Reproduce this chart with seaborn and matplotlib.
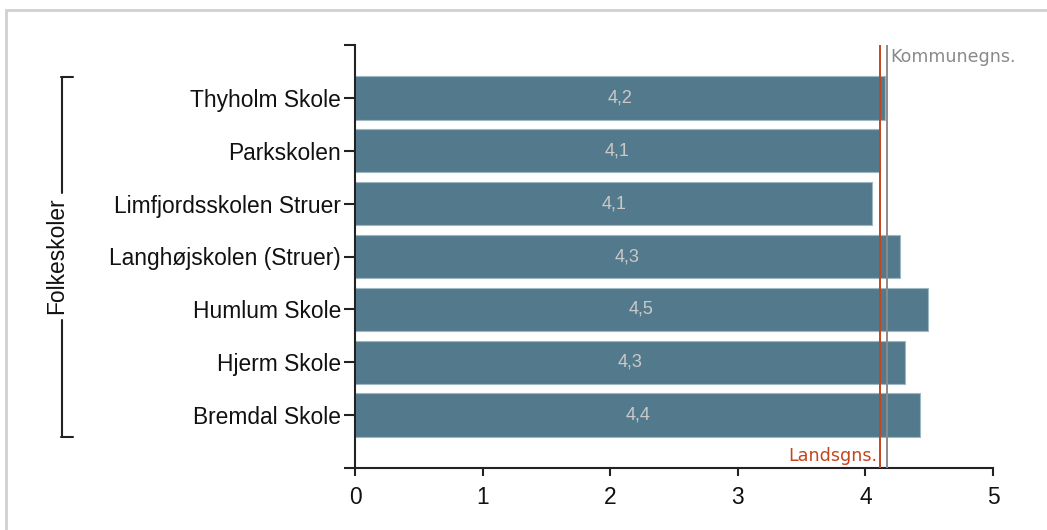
import matplotlib
matplotlib.use("Agg")
import matplotlib.pyplot as plt
from matplotlib.patches import Rectangle
from matplotlib.lines import Line2D
import seaborn as sns
import pandas as pd

schools = ["Thyholm Skole", "Parkskolen", "Limfjordsskolen Struer",
           "Langhøjskolen (Struer)", "Humlum Skole", "Hjerm Skole", "Bremdal Skole"]
values = [4.154, 4.114, 4.055, 4.27, 4.488, 4.31, 4.43]
group_label = "Folkeskoler"
lands_avg = 4.114
kommune_avg = 4.166
lands_label = "Landsgns."
kommune_label = "Kommunegns."
x_ticks = [0, 1, 2, 3, 4, 5]

sns.set_style("ticks")
plt.rcParams["font.family"] = ["Liberation Sans", "DejaVu Sans"]

W, H = 1047, 530
fig = plt.figure(figsize=(W / 100, H / 100), dpi=100)
ax = fig.add_axes([355 / W, 1 - 468 / H, (993 - 355) / W, (468 - 45) / H])

df = pd.DataFrame({"school": schools, "value": values})
sns.barplot(data=df, x="value", y="school", orient="h", color="#537a8c",
            saturation=1, width=0.82, edgecolor="#9db7c3", linewidth=0.8, ax=ax)

ax.set_xlim(0, 5)
ax.set_ylim(7, -1)
ax.set_xlabel("")
ax.set_ylabel("")

ax.set_yticks([-1] + list(range(len(schools))) + [len(schools)])
ax.set_yticklabels([""] + schools + [""], fontsize=16.4, color="#111111")
ax.set_xticks(x_ticks)
ax.set_xticklabels([str(t) for t in x_ticks], fontsize=16.4, color="#111111")
ax.tick_params(axis="y", length=8, width=1.5, pad=2, color="#222222")
ax.tick_params(axis="x", length=6, width=1.5, pad=7, color="#222222")

for side in ["top", "right"]:
    ax.spines[side].set_visible(False)
for side in ["left", "bottom"]:
    ax.spines[side].set_linewidth(1.5)
    ax.spines[side].set_color("#222222")

for i, v in enumerate(values):
    ax.text(v / 2, i, f"{v:.1f}".replace(".", ","), ha="center", va="center",
            fontsize=13, color="#c9c9c9")

ax.axvline(lands_avg, color="#c4461c", lw=1.4, zorder=5)
ax.axvline(kommune_avg, color="#8a8a8a", lw=1.4, zorder=5)
ax.text(kommune_avg + 0.03, -0.77, kommune_label, ha="left", va="center",
        fontsize=12.6, color="#8a8a8a", family="DejaVu Sans")
ax.text(lands_avg - 0.02, 6.78, lands_label, ha="right", va="center",
        fontsize=12.6, color="#c4461c", family="DejaVu Sans")

# group bracket
def fx(px):
    return px / W

def fy(py):
    return 1 - py / H

lc = "#222222"
fig.add_artist(Line2D([fx(62), fx(62)], [fy(77), fy(193)], color=lc, lw=1.5))
fig.add_artist(Line2D([fx(62), fx(62)], [fy(320), fy(437)], color=lc, lw=1.5))
fig.add_artist(Line2D([fx(61.3), fx(73)], [fy(77), fy(77)], color=lc, lw=1.5))
fig.add_artist(Line2D([fx(61.3), fx(73)], [fy(437), fy(437)], color=lc, lw=1.5))
fig.text(fx(57), fy(256), group_label, rotation=90, ha="center", va="center",
         fontsize=16.4, color="#111111")

# outer frame
fig.add_artist(Rectangle((fx(6), -0.05), 1.2, fy(10) + 0.05, fill=False,
                         edgecolor="#d0d0d0", lw=2, transform=fig.transFigure))

fig.savefig("out.png", dpi=100)
